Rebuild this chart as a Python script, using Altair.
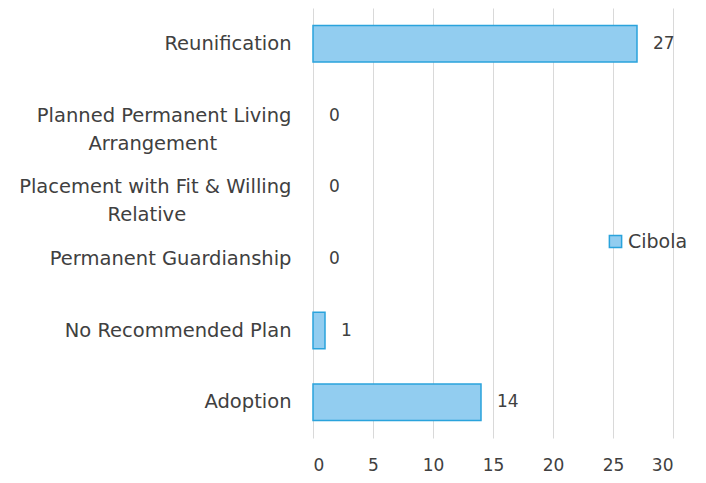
import altair as alt
import pandas as pd

categories = [
    "Reunification",
    "Planned Permanent Living Arrangement",
    "Placement with Fit & Willing Relative",
    "Permanent Guardianship",
    "No Recommended Plan",
    "Adoption",
]
values = [27, 0, 0, 0, 1, 14]
series = "Cibola"
x_ticks = [0, 5, 10, 15, 20, 25, 30]

NB = "\u00a0"
ZW = "\u200b"
label_lines = {
    "Planned Permanent Living Arrangement": ["Planned Permanent Living", "Arrangement" + NB * 12 + ZW],
    "Placement with Fit & Willing Relative": ["Placement with Fit & Willing", "Relative" + NB * 17 + ZW],
}

expr = "datum.label"
for k, v in label_lines.items():
    expr = f"datum.label == '{k}' ? ['{v[0]}', '{v[1]}'] : ({expr})"

df = pd.DataFrame({"category": categories, "value": values, "series": series})

FONT = "DejaVu Sans"
TXT = "#404040"

ysc = alt.Y(
    "category:N",
    sort=categories,
    scale=alt.Scale(paddingInner=0.49, paddingOuter=0.245),
    axis=alt.Axis(
        title=None,
        ticks=False,
        domain=False,
        grid=False,
        labelPadding=22,
        labelFontSize=19.5,
        labelFont=FONT,
        labelColor=TXT,
        labelLineHeight=28,
        labelLimit=400,
        labelExpr=expr,
    ),
)

xsc = alt.X(
    "value:Q",
    scale=alt.Scale(domain=[0, 30], nice=False),
    axis=alt.Axis(
        title=None,
        values=x_ticks,
        ticks=False,
        domain=False,
        grid=True,
        gridColor="#d9d9d9",
        gridWidth=1,
        labelFontSize=17,
        labelFont=FONT,
        labelColor=TXT,
        labelPadding=19,
    ),
)

bars = alt.Chart(df).transform_filter("datum.value > 0").mark_bar(
    stroke="#2AA3DC", strokeWidth=1.5
).encode(
    y=ysc,
    x=xsc,
    color=alt.Color(
        "series:N",
        scale=alt.Scale(range=["#92CDF0"]),
        legend=alt.Legend(
            title=None,
            orient="none",
            legendX=293,
            legendY=224,
            symbolType="square",
            symbolSize=150,
            symbolStrokeColor="#2AA3DC",
            symbolStrokeWidth=1.5,
            labelFontSize=19,
            labelFont=FONT,
            labelColor=TXT,
            labelOffset=3,
        ),
    ),
)

labels = alt.Chart(df).mark_text(
    align="left", dx=16, fontSize=17, font=FONT, color=TXT
).encode(
    y=ysc,
    x=xsc,
    text="value:Q",
)

chart = (
    alt.layer(bars, labels)
    .properties(
        width=360,
        height=430,
        autosize=alt.AutoSizeParams(type="none"),
        padding={"left": 305, "top": 0, "right": 24, "bottom": 37},
        view=alt.ViewBackground(stroke="transparent", strokeWidth=0),
    )
    .configure_view(stroke="transparent", strokeWidth=0)
    .configure(background="white")
)

chart.save("out.html", embed_options={"renderer": "svg", "actions": False})
